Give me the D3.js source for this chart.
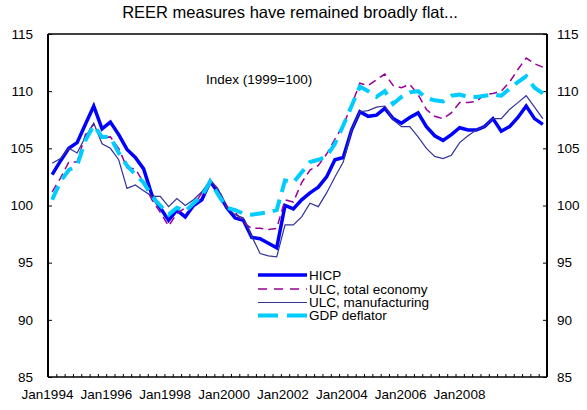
<!DOCTYPE html>
<html><head><meta charset="utf-8">
<script src="https://cdn.jsdelivr.net/npm/d3@7"></script>
<style>body{margin:0;background:#fff;} svg{display:block;font-family:"Liberation Sans",Arial,sans-serif;}</style>
</head><body><svg id="c" width="587" height="410"></svg>
<script>
const quarters = d3.range(60).map(i => `${1994 + Math.floor(i/4)}Q${i%4+1}`);
const xLabels = ["Jan1994","Jan1996","Jan1998","Jan2000","Jan2002","Jan2004","Jan2006","Jan2008"];
const yTicks = [85,90,95,100,105,110,115];
const hicp = [102.7,103.9,105.0,105.5,107.1,108.7,106.7,107.3,106.2,104.9,104.2,103.2,
  100.9,99.8,98.7,99.6,99.0,100.0,100.5,102.1,101.1,99.8,98.9,98.7,
  97.2,97.1,96.7,96.3,100.0,99.7,100.5,101.1,101.6,102.5,104.0,104.2,
  106.6,108.2,107.8,107.9,108.5,107.6,107.2,107.7,108.1,106.9,106.1,105.7,
  106.2,106.8,106.6,106.6,106.9,107.6,106.5,106.9,107.7,108.7,107.6,107.1];
const ulcTotal = [101.2,102.4,103.8,103.8,106.2,107.1,105.9,106.0,105.0,103.3,103.2,102.0,
  100.5,99.4,98.2,99.3,99.8,100.0,101.1,102.2,101.4,99.9,99.4,98.5,
  98.0,98.0,97.9,98.0,100.5,100.3,102.0,103.1,103.5,104.5,105.8,107.0,
  108.8,110.7,110.5,111.0,111.5,110.5,110.3,110.6,109.7,108.4,107.8,107.6,
  108.1,109.0,109.0,109.1,109.7,109.8,110.0,110.8,111.9,112.9,112.4,112.1];
const ulcManuf = [103.7,104.1,105.0,104.6,106.0,107.2,105.4,105.0,104.0,101.5,101.8,101.3,
  100.8,100.8,99.9,100.6,100.0,100.5,101.2,102.2,101.4,99.8,99.2,98.9,
  97.3,95.8,95.6,95.5,98.3,98.3,99.0,100.2,99.9,101.1,102.5,103.8,
  106.6,108.2,108.3,108.6,108.7,107.5,106.9,106.9,106.0,105.0,104.3,104.1,
  104.4,105.5,106.1,106.6,106.9,107.6,107.6,108.4,109.0,109.6,108.6,107.6];
const gdpDefl = [100.5,102.1,103.1,103.5,105.7,107.0,106.0,106.0,104.6,103.5,102.7,102.0,
  100.8,100.0,99.2,99.8,99.5,100.2,100.8,102.1,100.9,99.8,99.6,99.3,
  99.2,99.3,99.4,99.6,102.2,102.0,102.9,103.8,104.0,104.3,105.4,107.0,
  108.7,110.4,110.0,109.5,110.0,108.9,109.5,109.9,110.0,109.4,109.2,109.1,
  109.6,109.7,109.5,109.5,109.6,109.7,109.6,110.2,110.8,111.3,110.3,109.8];

const series = [
  {name:"HICP", values:hicp, color:"#0000FF", width:3.5, dash:null},
  {name:"ULC, total economy", values:ulcTotal, color:"#990099", width:1.5, dash:"8,5"},
  {name:"ULC, manufacturing", values:ulcManuf, color:"#333399", width:1.2, dash:null},
  {name:"GDP deflator", values:gdpDefl, color:"#00CCFF", width:4, dash:"15,8"}
];

const L = 48, R = 547, T = 34, B = 377;
const FONT = "Liberation Sans, Arial, sans-serif";
const svg = d3.select("#c");
const x = d3.scaleBand().domain(quarters).range([L, R]).padding(0);
const xEdge = d3.scaleLinear().domain([0, quarters.length]).range([L, R]);
const xLab = d3.scalePoint().domain(xLabels).range([47, 459]);
const y = d3.scaleLinear().domain([85, 115]).range([B, T]);

svg.append("text").attr("x", 290).attr("y", 18).attr("text-anchor", "middle")
  .attr("font-size", 16.5).text("REER measures have remained broadly flat...");

// axes
const gb = svg.append("g").attr("transform", `translate(0,${B})`)
  .call(d3.axisBottom(xEdge).tickValues(d3.range(quarters.length + 1)).tickSize(-3).tickFormat(""));
gb.select(".domain").remove();
gb.selectAll("line").attr("stroke", "#000").attr("stroke-width", 1);

const gl = svg.append("g").attr("transform", `translate(0,${B + 9})`)
  .call(d3.axisBottom(xLab).tickSize(0));
gl.select(".domain").remove();
gl.selectAll("text").attr("font-size", 13.5).attr("font-family", FONT).attr("fill", "#000").attr("dy", "0.71em");

const gy = svg.append("g").attr("transform", `translate(${L},0)`)
  .call(d3.axisLeft(y).tickValues(yTicks).tickSize(-4).tickPadding(15));
gy.select(".domain").remove();
gy.selectAll("line").attr("stroke", "#000");
gy.selectAll("text").attr("font-size", 13.5).attr("font-family", FONT).attr("fill", "#000");

const gyr = svg.append("g").attr("transform", `translate(${R},0)`)
  .call(d3.axisRight(y).tickValues(yTicks).tickSize(-4).tickPadding(10));
gyr.select(".domain").remove();
gyr.selectAll("line").attr("stroke", "#000");
gyr.selectAll("text").attr("font-size", 13.5).attr("font-family", FONT).attr("fill", "#000");

// frame
svg.append("line").attr("x1", L).attr("x2", R).attr("y1", T).attr("y2", T).attr("stroke", "#000").attr("stroke-width", 1.5);
svg.append("line").attr("x1", L).attr("x2", R).attr("y1", B).attr("y2", B).attr("stroke", "#000").attr("stroke-width", 1.5);
svg.append("line").attr("x1", L).attr("x2", L).attr("y1", T).attr("y2", B).attr("stroke", "#000").attr("stroke-width", 2);
svg.append("line").attr("x1", R).attr("x2", R).attr("y1", T).attr("y2", B).attr("stroke", "#000").attr("stroke-width", 2);

svg.append("text").attr("x", 206).attr("y", 84).attr("font-size", 13.5).text("Index (1999=100)");

const line = d3.line().x((d, i) => x(quarters[i]) + x.bandwidth() / 2).y(d => y(d));
series.forEach(s => {
  svg.append("path").datum(s.values).attr("d", line)
    .attr("fill", "none").attr("stroke", s.color).attr("stroke-width", s.width)
    .attr("stroke-dasharray", s.dash).attr("stroke-linejoin", "miter");
});

// legend
const legY = [275, 289, 302.5, 315.5];
const lg = svg.append("g");
series.forEach((s, i) => {
  lg.append("line").attr("x1", 258).attr("x2", 307).attr("y1", legY[i]).attr("y2", legY[i])
    .attr("stroke", s.color).attr("stroke-width", s.width).attr("stroke-dasharray", s.dash ? (s.width > 3 ? "20,9" : "9,7") : null);
  lg.append("text").attr("x", 309).attr("y", legY[i] + 4.5).attr("font-size", 13.5).text(s.name);
});
</script></body></html>
